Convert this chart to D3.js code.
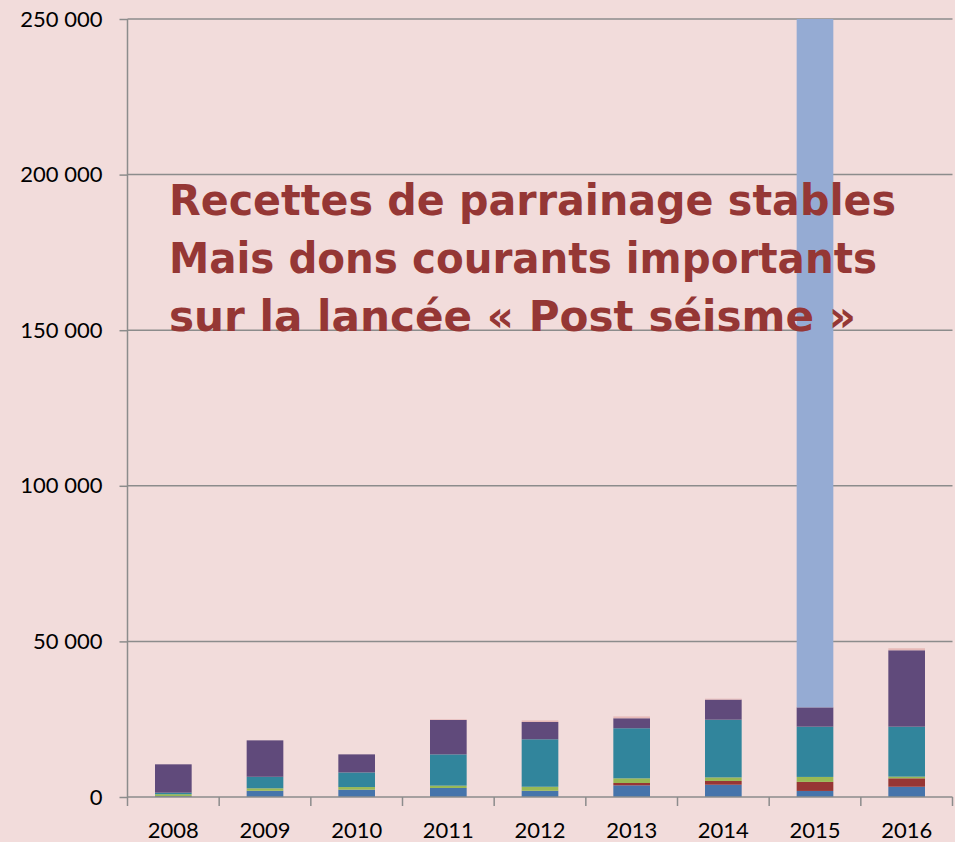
<!DOCTYPE html>
<html lang="fr">
<head>
    <meta charset="UTF-8">
    <title>Recettes</title>
    <script src="https://d3js.org/d3.v7.min.js"></script>
    <style>
        body { margin: 0; background: #F2DCDB; }
        svg { display: block; }
        .tick text { font-family: Lato, "Open Sans", sans-serif; font-size: 22px; fill: #000; }
    </style>
</head>
<body>
<script>
// Données
const annees = ["2008", "2009", "2010", "2011", "2012", "2013", "2014", "2015", "2016"];
const serieBleu = [300, 2000, 2350, 2900, 2000, 3750, 3950, 1950, 3300];
const serieRouge = [0, 0, 0, 0, 0, 750, 1200, 2900, 2700];
const serieVerte = [600, 800, 850, 750, 1300, 1500, 1150, 1600, 550];
const serieTurquoise = [500, 3700, 4700, 10050, 15250, 16100, 18550, 16150, 16050];
const serieViolette = [9100, 11700, 5800, 11050, 5550, 3200, 6450, 6200, 24550];
const serieBleuClair = [0, 0, 0, 0, 0, 0, 0, 300000, 0];
const serieRose = [0, 0, 0, 200, 500, 600, 300, 0, 650];
const yTicks = [0, 50000, 100000, 150000, 200000, 250000];
const titre = ["Recettes de parrainage stables", "Mais dons courants importants", "sur la lancée « Post séisme »"];

const series = [serieBleu, serieRouge, serieVerte, serieTurquoise, serieViolette, serieBleuClair, serieRose];
const couleurs = ["#4674AB", "#973634", "#98B955", "#31859C", "#604A7B", "#95ABD3", "#E6B9B8"];

const width = 955, height = 842;
const svg = d3.select("body").append("svg")
    .attr("width", width)
    .attr("height", height);

svg.append("rect").attr("width", width).attr("height", height).attr("fill", "#F2DCDB");

const x = d3.scaleBand().domain(annees).range([127.5, 952.5]).paddingInner(0.6).paddingOuter(0.3);
const y = d3.scaleLinear().domain([0, 250000]).range([797, 19]);

// Grille
svg.append("g").selectAll("line")
    .data(yTicks.slice(1))
    .join("line")
    .attr("x1", 127.5).attr("x2", 952.5)
    .attr("y1", d => y(d)).attr("y2", d => y(d))
    .attr("stroke", "#8C8C8C").attr("stroke-width", 1.5);

// Empilement
const table = annees.map((a, i) => {
    const row = {annee: a};
    series.forEach((s, k) => row["s" + k] = s[i]);
    return row;
});
const stack = d3.stack().keys(series.map((s, k) => "s" + k))(table);

svg.append("clipPath").attr("id", "clip")
    .append("rect").attr("x", 120).attr("y", y(250000)).attr("width", 840).attr("height", y(0) - y(250000));

svg.append("g").attr("clip-path", "url(#clip)")
    .selectAll("g")
    .data(stack)
    .join("g")
    .attr("fill", (d, i) => couleurs[i])
    .selectAll("rect")
    .data(d => d)
    .join("rect")
    .attr("x", d => x(d.data.annee))
    .attr("width", x.bandwidth())
    .attr("y", d => y(d[1]))
    .attr("height", d => y(d[0]) - y(d[1]));

// Axes
const yAxis = svg.append("g")
    .attr("transform", "translate(127.5,0)")
    .call(d3.axisLeft(y).tickValues(yTicks).tickSize(8).tickPadding(17)
        .tickFormat(d => d3.format(",")(d).replace(/,/g, " ")));
yAxis.selectAll("path, line").attr("stroke", "#8C8C8C").attr("stroke-width", 1.5);
yAxis.select(".domain").attr("d", `M0,${y(250000)}V${y(0)}`);

const xAxis = svg.append("g").attr("transform", `translate(0,${y(0)})`);
xAxis.append("line").attr("x1", 127.5).attr("x2", 952.5)
    .attr("stroke", "#8C8C8C").attr("stroke-width", 1.5);
xAxis.selectAll(".sep")
    .data(annees.concat(["fin"]))
    .join("line")
    .attr("x1", (d, i) => i < annees.length ? x(d) - x.step() * 0.3 : 952.5)
    .attr("x2", (d, i) => i < annees.length ? x(d) - x.step() * 0.3 : 952.5)
    .attr("y1", 0).attr("y2", 9)
    .attr("stroke", "#8C8C8C").attr("stroke-width", 1.5);
xAxis.selectAll("text")
    .data(annees)
    .join("text")
    .attr("x", d => x(d) + x.bandwidth() / 2)
    .attr("y", 41)
    .attr("text-anchor", "middle")
    .style("font-family", "Lato, 'Open Sans', sans-serif")
    .style("font-size", "22px")
    .text(d => d);

// Titre
const largeurs = [727, 708, 687];
svg.append("g").selectAll("text")
    .data(titre)
    .join("text")
    .attr("x", 169)
    .attr("y", (d, i) => 215 + i * 58)
    .attr("textLength", (d, i) => largeurs[i])
    .attr("lengthAdjust", "spacingAndGlyphs")
    .style("font-family", "'Comic Sans MS', 'DejaVu Sans', sans-serif")
    .style("font-weight", "bold")
    .style("font-size", "42px")
    .attr("fill", "#953735")
    .text(d => d);
</script>
</body>
</html>
